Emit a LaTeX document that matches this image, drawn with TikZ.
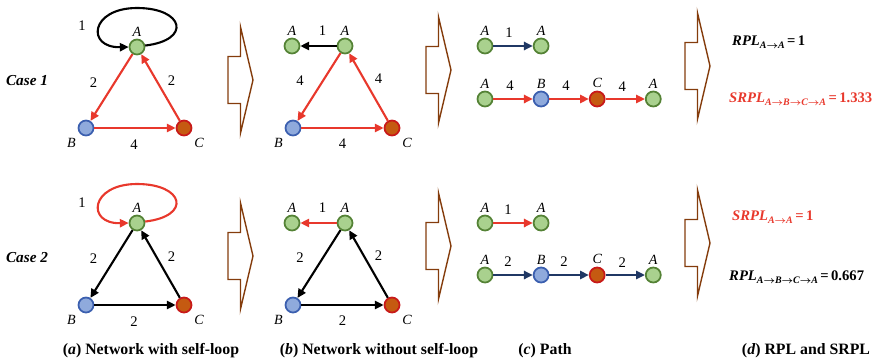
\documentclass[tikz,border=0pt]{standalone}
\usepackage{fontspec}
\setmainfont{Liberation Serif}
\usepackage{amsmath}
\usetikzlibrary{arrows.meta, positioning}
\definecolor{afill}{RGB}{169,209,142}
\definecolor{aline}{RGB}{84,130,53}
\definecolor{bfill}{RGB}{143,170,220}
\definecolor{bline}{RGB}{59,95,175}
\definecolor{cfill}{RGB}{197,90,17}
\definecolor{cline}{RGB}{200,25,25}
\definecolor{pathred}{RGB}{232,56,44}
\definecolor{pathnavy}{RGB}{32,56,100}
\definecolor{flowbrown}{RGB}{132,60,12}
\tikzset{
    anode/.style={circle, draw=aline, fill=afill, line width=1.5pt, minimum size=0.45cm, inner sep=0pt},
    bnode/.style={circle, draw=bline, fill=bfill, line width=1.5pt, minimum size=0.45cm, inner sep=0pt},
    cnode/.style={circle, draw=cline, fill=cfill, line width=1.5pt, minimum size=0.45cm, inner sep=0pt},
    redarrow/.style={-{Triangle[length=7.5pt,width=7pt]}, line width=1.8pt, draw=pathred},
    blkarrow/.style={-{Triangle[length=7.5pt,width=7pt]}, line width=1.8pt, draw=black},
    navyarrow/.style={-{Triangle[length=7.5pt,width=7pt]}, line width=1.8pt, draw=pathnavy},
    wlbl/.style={font=\fontsize{12.5}{14}\selectfont, inner sep=0pt},
    nlbl/.style={font=\fontsize{12}{14}\selectfont\itshape, inner sep=0pt, label distance=2pt},
    flowarr/.style={draw=flowbrown, line width=1.2pt, line join=miter},
    caselbl/.style={font=\fontsize{13}{15}\selectfont\bfseries\itshape},
    caption/.style={font=\fontsize{13.5}{15}\selectfont\bfseries},
    rpltext/.style={font=\fontsize{12.5}{14}\selectfont\boldmath, anchor=west, inner sep=0pt}
}
\newcommand{\pathlen}[3]{\textbf{\textit{#1}}\raisebox{-0.45ex}{\fontsize{8.5}{9}\selectfont\bfseries\itshape #2}\,\textbf{=\,#3}}

\newcommand{\flowarrow}[2]{%
  \draw[flowarr, shift={(#1,#2)}] (0,0) -- (-12.5,-53) -- (-12.5,-23.5) -- (-25,-23.5)
    -- (-25,23.5) -- (-12.5,23.5) -- (-12.5,53) -- cycle;}

\begin{document}
\begin{tikzpicture}[x=0.03cm, y=-0.03cm, node distance=1.18cm]
  \useasboundingbox (0,0) rectangle (880,363);

  % (a) network with self-loop
  \node[caselbl] (case1) at (27,81) {Case 1};
  \node[anode, label={[nlbl]above:A}] (a1A) at (137,47) {};
  \node[bnode, label={[nlbl, label distance=5pt]below left:B}] (a1B) at (86,128) {};
  \node[cnode, label={[nlbl, label distance=5pt]below right:C}] (a1C) at (184,128) {};
  \draw[blkarrow] (a1A.10) .. controls (192,40) and (184,8) .. (137,8)
    .. controls (90,8) and (86,48) .. (a1A.west);
  \node[wlbl] (a1w) at (82,26) {1};
  \draw[redarrow] (a1A) -- node[wlbl, shift={(-18,-5)}] {2} (a1B);
  \draw[redarrow] (a1B) -- node[wlbl, shift={(-1,17)}] {4} (a1C);
  \draw[redarrow] (a1C) -- node[wlbl, shift={(11,-7)}] {2} (a1A);

  \node[caselbl] (case2) at (27,258) {Case 2};
  \node[anode, label={[nlbl]above:A}] (a2A) at (137,223) {};
  \node[bnode, label={[nlbl, label distance=5pt]below left:B}] (a2B) at (86,305) {};
  \node[cnode, label={[nlbl, label distance=5pt]below right:C}] (a2C) at (184,305) {};
  \draw[redarrow] (a2A.10) .. controls (192,216) and (184,184) .. (137,184)
    .. controls (90,184) and (86,224) .. (a2A.west);
  \node[wlbl] (a2w) at (82,203) {1};
  \draw[blkarrow] (a2A) -- node[wlbl, shift={(-18,-5)}] {2} (a2B);
  \draw[blkarrow] (a2B) -- node[wlbl, shift={(-1,17)}] {2} (a2C);
  \draw[blkarrow] (a2C) -- node[wlbl, shift={(11,-7)}] {2} (a2A);

  % block arrows
  \flowarrow{253}{80}
  \flowarrow{451}{70}
  \flowarrow{710}{66}
  \flowarrow{253}{256}
  \flowarrow{451}{246}
  \flowarrow{710}{243}

  % (b) network without self-loop
  \node[anode, label={[nlbl]above:A}] (b1A) at (345,46) {};
  \node[anode, label={[nlbl]above:A}] (b1Aa) at (292,46) {};
  \node[bnode, label={[nlbl, label distance=5pt]below left:B}] (b1B) at (293,128) {};
  \node[cnode, label={[nlbl, label distance=5pt]below right:C}] (b1C) at (392,128) {};
  \draw[blkarrow] (b1A) -- node[wlbl, shift={(4,-15)}] {1} (b1Aa);
  \draw[redarrow] (b1A) -- node[wlbl, shift={(-19,-6)}] {4} (b1B);
  \draw[redarrow] (b1B) -- node[wlbl, shift={(0,16)}] {4} (b1C);
  \draw[redarrow] (b1C) -- node[wlbl, shift={(10,-8)}] {4} (b1A);

  \node[anode, label={[nlbl]above:A}] (b2A) at (345,223) {};
  \node[anode, label={[nlbl]above:A}] (b2Aa) at (292,223) {};
  \node[bnode, label={[nlbl, label distance=5pt]below left:B}] (b2B) at (293,305) {};
  \node[cnode, label={[nlbl, label distance=5pt]below right:C}] (b2C) at (392,305) {};
  \draw[redarrow] (b2A) -- node[wlbl, shift={(4,-15)}] {1} (b2Aa);
  \draw[blkarrow] (b2A) -- node[wlbl, shift={(-19,-6)}] {2} (b2B);
  \draw[blkarrow] (b2B) -- node[wlbl, shift={(0,16)}] {2} (b2C);
  \draw[blkarrow] (b2C) -- node[wlbl, shift={(10,-8)}] {2} (b2A);

  % (c) path
  \node[anode, label={[nlbl]above:A}] (c1A) at (485,46) {};
  \node[anode, label={[nlbl]above:A}, right=of c1A] (c1Ab) {};
  \draw[navyarrow] (c1A) -- node[wlbl, shift={(-4,-13)}] {1} (c1Ab);
  \node[anode, label={[nlbl]above:A}] (c1P) at (485,99) {};
  \node[bnode, label={[nlbl]above:B}, right=of c1P] (c1Q) {};
  \node[cnode, label={[nlbl]above:C}, right=of c1Q] (c1R) {};
  \node[anode, label={[nlbl]above:A}, right=of c1R] (c1S) {};
  \draw[redarrow] (c1P) -- node[wlbl, shift={(-3,-13)}] {4} (c1Q);
  \draw[redarrow] (c1Q) -- node[wlbl, shift={(-3,-13)}] {4} (c1R);
  \draw[redarrow] (c1R) -- node[wlbl, shift={(-3,-12)}] {4} (c1S);

  \node[anode, label={[nlbl]above:A}] (c2A) at (485,223) {};
  \node[anode, label={[nlbl]above:A}, right=of c2A] (c2Ab) {};
  \draw[redarrow] (c2A) -- node[wlbl, shift={(-5,-13)}] {1} (c2Ab);
  \node[anode, label={[nlbl]above:A}] (c2P) at (485,275) {};
  \node[bnode, label={[nlbl]above:B}, right=of c2P] (c2Q) {};
  \node[cnode, label={[nlbl]above:C}, right=of c2Q] (c2R) {};
  \node[anode, label={[nlbl]above:A}, right=of c2R] (c2S) {};
  \draw[navyarrow] (c2P) -- node[wlbl, shift={(-5,-13)}] {2} (c2Q);
  \draw[navyarrow] (c2Q) -- node[wlbl, shift={(-5,-13)}] {2} (c2R);
  \draw[navyarrow] (c2R) -- node[wlbl, shift={(-3,-12)}] {2} (c2S);

  % (d) RPL and SRPL
  \node[rpltext] (d1top) at (732,42) {\pathlen{RPL}{A$\rightarrow$A}{1}};
  \node[rpltext, text=pathred] (d1bot) at (729,99) {\pathlen{SRPL}{A$\rightarrow$B$\rightarrow$C$\rightarrow$A}{1.333}};
  \node[rpltext, text=pathred] (d2top) at (732,217) {\pathlen{SRPL}{A$\rightarrow$A}{1}};
  \node[rpltext] (d2bot) at (729,277) {\pathlen{RPL}{A$\rightarrow$B$\rightarrow$C$\rightarrow$A}{0.667}};

  % captions
  \node[caption] (capa) at (151,351) {(\textit{a}) Network with self-loop};
  \node[caption] (capb) at (379,351) {(\textit{b}) Network without self-loop};
  \node[caption] (capc) at (545,351) {(\textit{c}) Path};
  \node[caption] (capd) at (806,351) {(\textit{d}) RPL and SRPL};
\end{tikzpicture}
\end{document}
